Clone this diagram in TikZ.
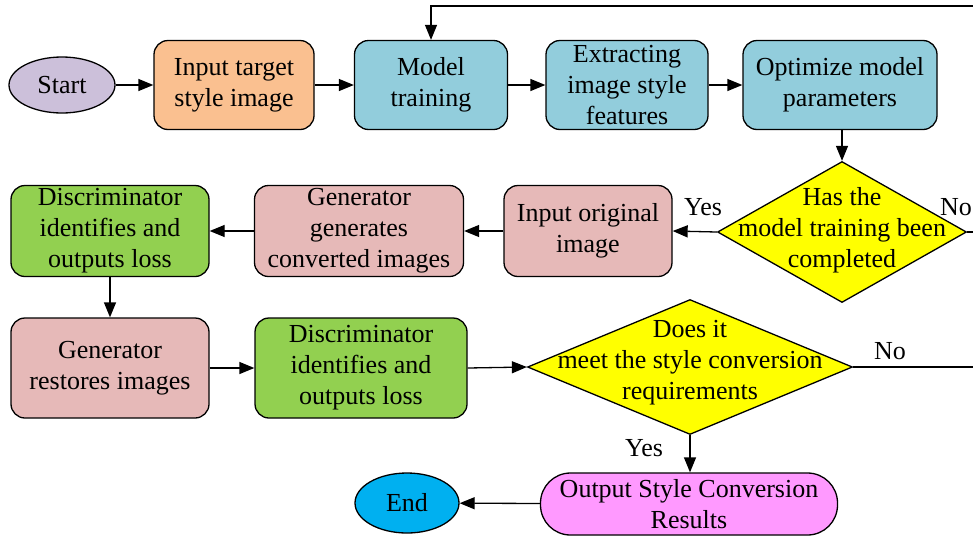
\documentclass[tikz,border=0pt]{standalone}
\usepackage{fontspec}
\setmainfont{Liberation Serif}
\usetikzlibrary{arrows.meta,shapes.geometric}

\definecolor{lavender}{HTML}{CCC0DA}
\definecolor{peach}{HTML}{FAC090}
\definecolor{teal}{HTML}{92CDDC}
\definecolor{rose}{HTML}{E6B9B8}
\definecolor{leaf}{HTML}{92D050}
\definecolor{lemon}{HTML}{FFFF00}
\definecolor{pink}{HTML}{FF99FF}
\definecolor{sky}{HTML}{00B0F0}

\tikzset{
  every node/.style={font=\fontsize{26}{31}\selectfont, align=center, text=black},
  box/.style={draw=black, line width=1.3pt, rounded corners=14pt, inner sep=0pt},
  oval/.style={draw=black, line width=1.3pt, ellipse, inner sep=0pt},
  decide/.style={draw=black, line width=1.3pt, diamond, inner sep=0pt},
  link/.style={line width=1.3pt, -{Triangle[length=15pt,width=12pt]}},
  plain/.style={line width=1.3pt},
  lbl/.style={font=\fontsize{26}{28}\selectfont}
}

\begin{document}
\begin{tikzpicture}[x=1pt,y=-1pt]
\useasboundingbox (0,0) rectangle (973,536);
\clip (0,0) rectangle (973,536);

% top row
\node[oval, fill=lavender, minimum width=106pt, minimum height=56pt] (start) at (62,85) {Start};
\node[box, fill=peach, minimum width=160pt, minimum height=89pt] (tgt) at (234,85) {Input target\\style image};
\node[box, fill=teal, minimum width=153pt, minimum height=89pt] (train) at (431,85) {Model\\training};
\node[box, fill=teal, minimum width=162pt, minimum height=89pt] (extract) at (627,85) {Extracting\\image style\\features};
\node[box, fill=teal, minimum width=194pt, minimum height=89pt] (optim) at (840,85) {Optimize model\\parameters};

% middle row
\node[decide, fill=lemon, minimum width=249pt, minimum height=141pt] (done) at (842,232) {};
\node at (842,230) {Has the\\model training been\\completed};
\node[box, fill=rose, minimum width=168pt, minimum height=91pt] (orig) at (588,231) {Input original\\image};
\node[box, fill=rose, minimum width=209pt, minimum height=91pt] (gen) at (359,231) {Generator\\generates\\converted images};
\node[box, fill=leaf, minimum width=198pt, minimum height=91pt] (disc1) at (110,231) {Discriminator\\identifies and\\outputs loss};

% bottom rows
\node[box, fill=rose, minimum width=198pt, minimum height=100pt] (restore) at (110,368) {Generator\\restores images};
\node[box, fill=leaf, minimum width=212pt, minimum height=100pt] (disc2) at (361,368) {Discriminator\\identifies and\\outputs loss};
\node[decide, fill=lemon, minimum width=325pt, minimum height=135pt] (meet) at (690,367) {};
\node at (690,363) {Does it\\meet the style conversion\\requirements};
\node[box, fill=pink, rounded corners=30pt, minimum width=297pt, minimum height=62pt] (result) at (689,504) {Output Style Conversion\\Results};
\node[oval, fill=sky, minimum width=104pt, minimum height=60pt] (stop) at (407,503) {End};

% free ends at the right border
\coordinate (loopA) at (975,6);
\coordinate (noA) at (975,232);
\coordinate (noB) at (975,367);

% connectors
\draw[link] (start) -- (tgt);
\draw[link] (tgt) -- (train);
\draw[link] (train) -- (extract);
\draw[link] (extract) -- (optim);
\draw[link] (optim.south -| done.north) -- (done.north);
\draw[link] (done.west) -- (orig.east);
\draw[plain] (done.east) -- (noA);
\draw[link] (orig) -- (gen);
\draw[link] (gen) -- (disc1);
\draw[link] (disc1) -- (restore);
\draw[link] (restore) -- (disc2);
\draw[link] (disc2.east) -- (meet.west);
\draw[plain] (meet.east) -- (noB);
\draw[link] (meet.south) -- (meet.south |- result.north);
\draw[link] (result) -- (stop);
\draw[link] (loopA) -- (loopA -| train.north) -- (train.north);

% branch labels
\node[lbl] at (703,207) {Yes};
\node[lbl] at (956,207) {No};
\node[lbl] at (890,351) {No};
\node[lbl] at (644,448) {Yes};
\end{tikzpicture}
\end{document}
